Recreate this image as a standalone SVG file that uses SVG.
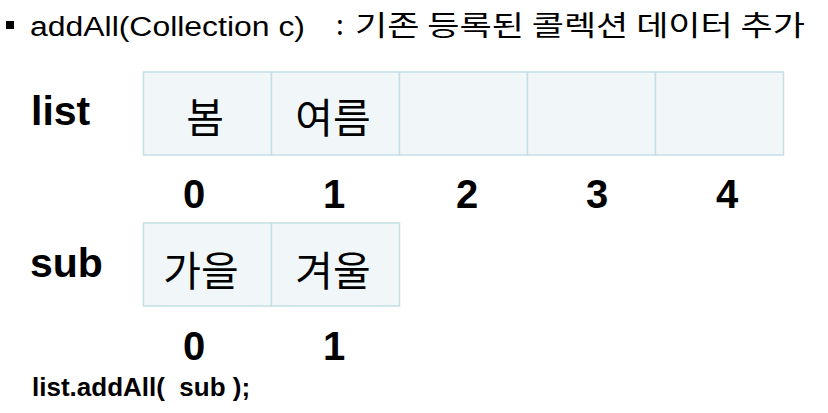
<svg xmlns="http://www.w3.org/2000/svg" width="828" height="413" viewBox="0 0 828 413">
<style>
.cell{fill:#F1F7F9;stroke:#C4DFE3;stroke-width:1.5}
.lbl{font-family:"Liberation Sans",Arial,sans-serif;font-weight:bold;font-size:41px;fill:#000}
.idx{font-family:"Liberation Sans",Arial,sans-serif;font-weight:bold;font-size:40px;fill:#000;text-anchor:middle}
.ko{font-family:"Noto Sans CJK KR","Noto Sans CJK SC",sans-serif;font-size:41px;fill:#000;text-anchor:middle}
.title{font-family:"Liberation Sans",Arial,"Noto Sans CJK KR",sans-serif;font-size:27px;fill:#000}
.titleko{font-family:"Noto Sans CJK KR","Noto Sans CJK SC",sans-serif;font-size:28px;fill:#000}
</style>
<rect width="828" height="413" fill="#fff"/>
<g id="title">
<rect x="6" y="21" width="8" height="8" fill="#000"/>
<text class="title" x="30" y="36" textLength="275" lengthAdjust="spacingAndGlyphs">addAll(Collection c)</text>
<text class="titleko" x="336" y="35">:</text>
<text class="titleko" x="355" y="36" textLength="450" lengthAdjust="spacingAndGlyphs">기존 등록된 콜렉션 데이터 추가</text>
</g>
<g id="list">
<text class="lbl" x="31" y="125">list</text>
<rect class="cell" x="143.5" y="72" width="128" height="83"/>
<rect class="cell" x="271.5" y="72" width="128" height="83"/>
<rect class="cell" x="399.5" y="72" width="128" height="83"/>
<rect class="cell" x="527.5" y="72" width="128" height="83"/>
<rect class="cell" x="655.5" y="72" width="128" height="83"/>
<text class="ko" x="205" y="133">봄</text>
<text class="ko" x="333" y="133">여름</text>
<text class="idx" x="194" y="208">0</text>
<text class="idx" x="334" y="208">1</text>
<text class="idx" x="467" y="208">2</text>
<text class="idx" x="597" y="208">3</text>
<text class="idx" x="727" y="208">4</text>
</g>
<g id="sub">
<text class="lbl" x="30" y="277">sub</text>
<rect class="cell" x="143.5" y="223" width="128" height="83"/>
<rect class="cell" x="271.5" y="223" width="128" height="83"/>
<text class="ko" x="201" y="286">가을</text>
<text class="ko" x="333" y="286">겨울</text>
<text class="idx" x="194" y="360">0</text>
<text class="idx" x="334" y="360">1</text>
</g>
<g id="code">
<text x="32" y="396" xml:space="preserve" style="font-family:'Liberation Sans',Arial,sans-serif;font-weight:bold;font-size:26px">list.addAll(  sub );</text>
</g>
<g id="connectors"/>
</svg>
